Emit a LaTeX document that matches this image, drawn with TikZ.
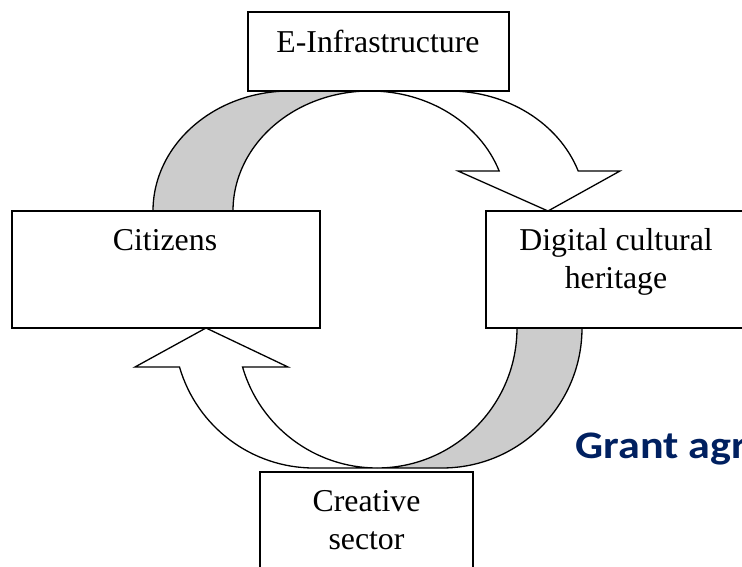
\documentclass[tikz,border=0pt]{standalone}
\usepackage{fontspec}
\setmainfont{Liberation Serif}
\newfontfamily\grantfont[FakeStretch=1.13]{Carlito}
\definecolor{navy}{RGB}{0,32,96}
\definecolor{backgray}{RGB}{204,204,204}
\pgfdeclarelayer{background}
\pgfsetlayers{background,main}
\begin{document}
\begin{tikzpicture}[x=1pt,y=1pt, line width=1.4pt, line join=miter,
  box/.style={draw=black, fill=white, rectangle, inner sep=0pt, outer sep=0pt, line width=1.5pt},
  lbl/.style={font=\fontsize{31.8}{38}\selectfont, inner sep=0pt, anchor=base},
  backband/.style={draw=black, fill=backgray, line width=1.3pt, line join=miter},
  frontband/.style={draw=black, fill=white, line width=1.3pt, line join=miter}]
\useasboundingbox (0,0) rectangle (742,567);

% boxes
\node[box, minimum width=261pt, minimum height=79pt] (einf) at (378.5,515.5) {};
\node[box, minimum width=308pt, minimum height=117pt] (cit) at (166,297.5) {};
\node[box, minimum width=260pt, minimum height=117pt] (dch) at (616,297.5) {};
\node[box, minimum width=213pt, minimum height=115pt] (cre) at (366.5,37.5) {};

% labels
\node[lbl] (t1) at (378,514) {E-Infrastructure};
\node[lbl] (t2) at (165,316) {Citizens};
\node[lbl] (t3) at (616,316) {Digital cultural};
\node[lbl] (t4) at (616,278) {heritage};
\node[lbl] (t5) at (366.5,55) {Creative};
\node[lbl] (t6) at (366.5,17) {sector};

\node[anchor=base west, inner sep=0pt, text=navy,
      font=\grantfont\bfseries\fontsize{39}{46}\selectfont] (grant) at (575,108) {Grant agre};

\begin{pgfonlayer}{background}
% top curved arrow: E-Infrastructure -> Digital cultural heritage
\draw[backband] (153,356)
   arc[start angle=180, end angle=90, x radius=137pt, y radius=120pt]
   -- (370,476)
   arc[start angle=90, end angle=180, x radius=137pt, y radius=120pt] -- cycle;
\draw[frontband] (370,476)
   arc[start angle=90, end angle=19.47, x radius=137pt, y radius=120pt]
   -- (458,396) -- (dch.north -| 548,0) -- (620,396) -- (578.2,396)
   arc[start angle=19.47, end angle=90, x radius=137pt, y radius=120pt] -- cycle;

% bottom curved arrow: Creative sector -> Citizens
\draw[backband] (517,239)
   arc[start angle=0, end angle=-90, x radius=140pt, y radius=140pt]
   -- (442,99)
   arc[start angle=-90, end angle=0, x radius=140pt, y radius=140pt] -- cycle;
\draw[frontband] (377,99)
   arc[start angle=270, end angle=196.17, x radius=140pt, y radius=140pt]
   -- (288,200) -- (cit.south -| 206,0) -- (135,200) -- (179.5,200)
   arc[start angle=196.17, end angle=270, x radius=140pt, y radius=140pt] -- cycle;
\end{pgfonlayer}
\end{tikzpicture}
\end{document}
